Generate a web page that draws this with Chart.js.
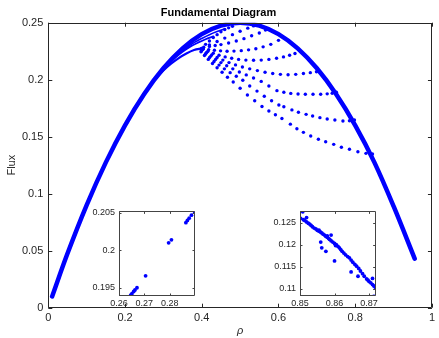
<!DOCTYPE html>
<html>
<head>
<meta charset="utf-8">
<script src="https://cdn.jsdelivr.net/npm/chart.js@4.4.1/dist/chart.umd.min.js"></script>
<style>
  html, body { margin: 0; padding: 0; background: #fff; }
  #wrap { position: relative; width: 439px; height: 338px; overflow: hidden; }
  canvas { position: absolute; }
</style>
</head>
<body>
<div id="wrap">
  <canvas id="main" width="439" height="338" style="left:0;top:0"></canvas>
  <canvas id="zoomLow" width="112" height="108" style="left:87px;top:202px"></canvas>
  <canvas id="zoomHigh" width="112" height="108" style="left:268px;top:202px"></canvas>
</div>
<script>
// Fundamental diagram: flux vs density, with two zoomed panels.

const X_TICKS = [0, 0.2, 0.4, 0.6, 0.8, 1];
const Y_TICKS = [0, 0.05, 0.1, 0.15, 0.2, 0.25];

// Main branch (dense points, drawn as a thick band)
const MAIN_RHO  = [0.01, 0.05, 0.10, 0.15, 0.20, 0.25, 0.30, 0.35, 0.40, 0.45, 0.50, 0.55, 0.60, 0.65, 0.70, 0.75, 0.80, 0.85, 0.90, 0.955];
const MAIN_FLUX = [0.0099, 0.0475, 0.090, 0.1275, 0.160, 0.1875, 0.210, 0.2275, 0.240, 0.2475, 0.250, 0.2475, 0.240, 0.2275, 0.210, 0.1875, 0.160, 0.1275, 0.089, 0.043];

// Strands that fold in towards rho ~ 0.4
const FOLD_A_RHO  = [0.28, 0.30, 0.32, 0.34, 0.36, 0.38, 0.40];
const FOLD_A_FLUX = [0.2010, 0.2080, 0.2140, 0.2190, 0.2230, 0.2260, 0.2275];
const FOLD_B_RHO  = [0.29, 0.31, 0.33, 0.35, 0.37, 0.39, 0.41, 0.43];
const FOLD_B_FLUX = [0.2055, 0.2125, 0.2190, 0.2245, 0.2290, 0.2325, 0.2355, 0.2380];
const FOLD_C_RHO  = [0.30, 0.32, 0.34, 0.36, 0.38, 0.40, 0.42, 0.44, 0.46];
const FOLD_C_FLUX = [0.2095, 0.2165, 0.2228, 0.2280, 0.2325, 0.2362, 0.2395, 0.2422, 0.2445];

// Dotted branches leaving the fold
const B1_RHO  = [0.40, 0.41, 0.42, 0.43, 0.44, 0.45, 0.46, 0.47, 0.48];
const B1_FLUX = [0.2275, 0.2310, 0.2340, 0.2370, 0.2395, 0.2420, 0.2440, 0.2455, 0.2468];
const B2_RHO  = [0.40, 0.42, 0.44, 0.46, 0.48, 0.50, 0.52, 0.535];
const B2_FLUX = [0.2275, 0.2305, 0.2335, 0.2365, 0.2395, 0.2425, 0.2452, 0.2472];
const B3_RHO  = [0.405, 0.42, 0.435, 0.45, 0.47, 0.49, 0.51, 0.53, 0.55, 0.566];
const B3_FLUX = [0.2285, 0.2292, 0.2300, 0.2308, 0.2322, 0.2340, 0.2360, 0.2385, 0.2410, 0.2436];
const B4_RHO  = [0.404, 0.418, 0.433, 0.449, 0.466, 0.484, 0.503, 0.522, 0.541, 0.560, 0.580, 0.600];
const B4_FLUX = [0.2272, 0.2264, 0.2258, 0.2253, 0.2250, 0.2251, 0.2255, 0.2262, 0.2272, 0.2288, 0.2310, 0.2345];
const B5_RHO  = [0.403, 0.416, 0.430, 0.445, 0.461, 0.478, 0.496, 0.515, 0.535, 0.555, 0.575, 0.595, 0.613, 0.629, 0.643];
const B5_FLUX = [0.2268, 0.2250, 0.2232, 0.2215, 0.2200, 0.2188, 0.2178, 0.2172, 0.2170, 0.2172, 0.2178, 0.2188, 0.2200, 0.2214, 0.2230];
const B6_RHO  = [0.401, 0.413, 0.426, 0.440, 0.455, 0.471, 0.488, 0.506, 0.525, 0.545, 0.565, 0.585, 0.605, 0.625, 0.645, 0.665, 0.683, 0.699];
const B6_FLUX = [0.2262, 0.2240, 0.2218, 0.2195, 0.2172, 0.2150, 0.2130, 0.2112, 0.2095, 0.2080, 0.2066, 0.2055, 0.2047, 0.2044, 0.2047, 0.2054, 0.2062, 0.2070];
const B7_RHO  = [0.400, 0.411, 0.423, 0.436, 0.450, 0.465, 0.481, 0.498, 0.516, 0.535, 0.555, 0.575, 0.596, 0.614, 0.632, 0.651, 0.670, 0.690, 0.710, 0.727, 0.740, 0.751];
const B7_FLUX = [0.2258, 0.2232, 0.2205, 0.2178, 0.2150, 0.2122, 0.2095, 0.2068, 0.2042, 0.2015, 0.1985, 0.1945, 0.1904, 0.1890, 0.1880, 0.1874, 0.1872, 0.1873, 0.1872, 0.1876, 0.1881, 0.1890];
const B8_RHO  = [0.399, 0.409, 0.420, 0.432, 0.445, 0.459, 0.474, 0.490, 0.507, 0.525, 0.544, 0.563, 0.582, 0.601, 0.614, 0.635, 0.652, 0.672, 0.689, 0.708, 0.727, 0.747, 0.768, 0.785, 0.798];
const B8_FLUX = [0.2252, 0.2222, 0.2192, 0.2160, 0.2128, 0.2095, 0.2062, 0.2030, 0.1995, 0.1945, 0.1900, 0.1855, 0.1815, 0.1778, 0.1763, 0.1735, 0.1714, 0.1696, 0.1682, 0.1667, 0.1655, 0.1646, 0.1638, 0.1640, 0.1646];
const B9_RHO  = [0.398, 0.407, 0.417, 0.428, 0.440, 0.453, 0.467, 0.482, 0.500, 0.519, 0.538, 0.557, 0.575, 0.592, 0.609, 0.631, 0.648, 0.665, 0.684, 0.704, 0.723, 0.744, 0.764, 0.785, 0.807, 0.828, 0.845];
const B9_FLUX = [0.2245, 0.2212, 0.2178, 0.2142, 0.2105, 0.2065, 0.2022, 0.1980, 0.1925, 0.1866, 0.1815, 0.1765, 0.1725, 0.1692, 0.1660, 0.1610, 0.1570, 0.1538, 0.1506, 0.1477, 0.1456, 0.1433, 0.1407, 0.1390, 0.1368, 0.1354, 0.1348];

// Zoom around rho = 0.26 .. 0.29
const LOW_X_TICKS = [0.26, 0.27, 0.28];
const LOW_Y_TICKS = [0.195, 0.2, 0.205];
const LOW_RHO  = [0.2646, 0.2651, 0.2658, 0.2663, 0.2671, 0.2705, 0.2796, 0.2807, 0.2864, 0.2870, 0.2877, 0.2886, 0.2898];
const LOW_FLUX = [0.1940, 0.1942, 0.1945, 0.1947, 0.1950, 0.1966, 0.2010, 0.2014, 0.2037, 0.2040, 0.2043, 0.2047, 0.2052];

// Zoom around rho = 0.85 .. 0.87: the dense run along the branch, then the stragglers
const HIGH_X_TICKS = [0.85, 0.86, 0.87];
const HIGH_Y_TICKS = [0.11, 0.115, 0.12, 0.125];
const HIGH_RHO  = [0.8502, 0.8508, 0.8502, 0.8510, 0.8514, 0.8519, 0.8524, 0.8528, 0.8532, 0.8536, 0.8541, 0.8546, 0.8550, 0.8555, 0.8559, 0.8563, 0.8567, 0.8571,
                   0.8575, 0.8579, 0.8583, 0.8586, 0.8590, 0.8595, 0.8600, 0.8605, 0.8610, 0.8614, 0.8618, 0.8622, 0.8627, 0.8632, 0.8638, 0.8643, 0.8648, 0.8653,
                   0.8659, 0.8664, 0.8670, 0.8675, 0.8681, 0.8686, 0.8693, 0.8697, 0.8700, 0.8705, 0.8710, 0.8714, 0.8718,
                   0.8519, 0.8555, 0.8560, 0.8563, 0.8575, 0.8579, 0.8590, 0.8603, 0.8600, 0.8648, 0.8668, 0.8710, 0.8714];
const HIGH_FLUX = [0.1277, 0.1275, 0.1260, 0.1257, 0.1255, 0.1252, 0.1249, 0.1247, 0.1244, 0.1241, 0.1238, 0.1236, 0.1233, 0.1231, 0.1229, 0.1227, 0.1224, 0.1222,
                   0.1219, 0.1217, 0.1214, 0.1212, 0.1209, 0.1206, 0.1203, 0.1200, 0.1196, 0.1193, 0.1189, 0.1185, 0.1181, 0.1177, 0.1173, 0.1170, 0.1165, 0.1160,
                   0.1155, 0.1151, 0.1146, 0.1140, 0.1134, 0.1128, 0.1122, 0.1119, 0.1116, 0.1113, 0.1109, 0.1106, 0.1103,
                   0.1262, 0.1233, 0.1206, 0.1193, 0.1185, 0.1220, 0.1222, 0.1198, 0.1163, 0.1138, 0.1128, 0.1123, 0.1082];

const BLUE = '#0000ff';
const INK = '#262626';
const FONT = 'Liberation Sans, Arial, Helvetica, sans-serif';

function pts(xs, ys) {
  return xs.map((x, i) => ({ x, y: ys[i] }));
}

function dots(xs, ys, r) {
  return {
    data: pts(xs, ys), showLine: false, pointRadius: r, pointHoverRadius: r,
    pointBackgroundColor: BLUE, pointBorderWidth: 0,
  };
}

function band(xs, ys, w) {
  return {
    data: pts(xs, ys), showLine: true, borderColor: BLUE, borderWidth: w,
    borderCapStyle: 'round', borderJoinStyle: 'round', tension: 0.35, pointRadius: 0,
  };
}

// box round the plot area with inward tick marks on all four sides
function framePlugin(tickLen, color) {
  return {
    id: 'frame',
    beforeDatasetsDraw(chart) {
      const a = chart.chartArea, ctx = chart.ctx;
      ctx.save();
      ctx.fillStyle = '#fff';
      ctx.fillRect(a.left, a.top, a.right - a.left, a.bottom - a.top);
      ctx.restore();
    },
    afterDatasetsDraw(chart) {
      const a = chart.chartArea, ctx = chart.ctx;
      const xs = chart.scales.x, ys = chart.scales.y;
      ctx.save();
      ctx.strokeStyle = color;
      ctx.lineWidth = 1;
      ctx.beginPath();
      ctx.rect(Math.round(a.left) + 0.5, Math.round(a.top) + 0.5,
        Math.round(a.right - a.left) - 1, Math.round(a.bottom - a.top) - 1);
      xs.ticks.forEach((t) => {
        const px = Math.round(xs.getPixelForValue(t.value)) + 0.5;
        ctx.moveTo(px, a.bottom); ctx.lineTo(px, a.bottom - tickLen);
        ctx.moveTo(px, a.top); ctx.lineTo(px, a.top + tickLen);
      });
      ys.ticks.forEach((t) => {
        const py = Math.round(ys.getPixelForValue(t.value)) + 0.5;
        ctx.moveTo(a.left, py); ctx.lineTo(a.left + tickLen, py);
        ctx.moveTo(a.right, py); ctx.lineTo(a.right - tickLen, py);
      });
      ctx.stroke();
      ctx.restore();
    },
  };
}

function fixedTicks(values) {
  return (scale) => { scale.ticks = values.map((v) => ({ value: v })); };
}

const mainSets = [
  band(MAIN_RHO, MAIN_FLUX, 4.5),
  band(FOLD_A_RHO, FOLD_A_FLUX, 2.2),
  band(FOLD_B_RHO, FOLD_B_FLUX, 1.8),
  band(FOLD_C_RHO, FOLD_C_FLUX, 1.6),
  dots(B1_RHO, B1_FLUX, 1.7), dots(B2_RHO, B2_FLUX, 1.7), dots(B3_RHO, B3_FLUX, 1.7),
  dots(B4_RHO, B4_FLUX, 1.7), dots(B5_RHO, B5_FLUX, 1.7), dots(B6_RHO, B6_FLUX, 1.7),
  dots(B7_RHO, B7_FLUX, 1.7), dots(B8_RHO, B8_FLUX, 1.7), dots(B9_RHO, B9_FLUX, 1.7),
];

new Chart(document.getElementById('main'), {
  type: 'scatter',
  data: { datasets: mainSets },
  options: {
    responsive: false, animation: false, devicePixelRatio: 1,
    layout: { padding: { left: 0, right: 2, top: 0, bottom: 0 } },
    plugins: {
      legend: { display: false }, tooltip: { enabled: false },
      title: {
        display: true, text: 'Fundamental Diagram', color: '#000',
        font: { family: FONT, size: 11, weight: 'bold' }, padding: { top: 6, bottom: 3.5 },
      },
    },
    scales: {
      x: {
        type: 'linear', min: 0, max: 1,
        afterBuildTicks: fixedTicks(X_TICKS),
        ticks: { color: INK, font: { family: FONT, size: 11 }, padding: 4, maxRotation: 0,
          callback: (v) => String(v) },
        grid: { display: false, drawTicks: false }, border: { display: false },
        title: { display: true, text: 'ρ', color: INK, font: { family: FONT, size: 11, style: 'italic' }, padding: { top: 2, bottom: 0 } },
        afterFit: (s) => { s.height = 30.3; },
      },
      y: {
        type: 'linear', min: 0, max: 0.25,
        afterBuildTicks: fixedTicks(Y_TICKS),
        ticks: { color: INK, font: { family: FONT, size: 11 }, padding: 5, callback: (v) => String(v) },
        grid: { display: false, drawTicks: false }, border: { display: false },
        title: { display: true, text: 'Flux', color: INK, font: { family: FONT, size: 11 }, padding: { top: 5, bottom: 0 } },
        afterFit: (s) => { s.width = 48.3; },
      },
    },
  },
  plugins: [framePlugin(4, INK)],
});

function insetChart(id, rho, flux, xr, yr, xt, yt, pad) {
  return new Chart(document.getElementById(id), {
    type: 'scatter',
    data: { datasets: [dots(rho, flux, 1.9)] },
    options: {
      responsive: false, animation: false, devicePixelRatio: 1,
      layout: { padding: pad },
      plugins: { legend: { display: false }, tooltip: { enabled: false } },
      scales: {
        x: {
          type: 'linear', min: xr[0], max: xr[1],
          afterBuildTicks: fixedTicks(xt),
          ticks: { color: INK, font: { family: FONT, size: 9 }, padding: 2, maxRotation: 0, callback: (v) => String(v) },
          grid: { display: false, drawTicks: false }, border: { display: false },
          afterFit: (s) => { s.height = 14; },
        },
        y: {
          type: 'linear', min: yr[0], max: yr[1],
          afterBuildTicks: fixedTicks(yt),
          ticks: { color: INK, font: { family: FONT, size: 9 }, padding: 4, callback: (v) => String(v) },
          grid: { display: false, drawTicks: false }, border: { display: false },
          afterFit: (s) => { s.width = 32; },
        },
      },
    },
    plugins: [framePlugin(2.5, '#444')],
  });
}

insetChart('zoomLow', LOW_RHO, LOW_FLUX, [0.26, 0.29], [0.1939, 0.2052], LOW_X_TICKS, LOW_Y_TICKS,
  { left: 0, right: 4, top: 7, bottom: 0 });
insetChart('zoomHigh', HIGH_RHO, HIGH_FLUX, [0.85, 0.8719], [0.1083, 0.1276], HIGH_X_TICKS, HIGH_Y_TICKS,
  { left: 0, right: 2, top: 7, bottom: 0 });
</script>
</body>
</html>
